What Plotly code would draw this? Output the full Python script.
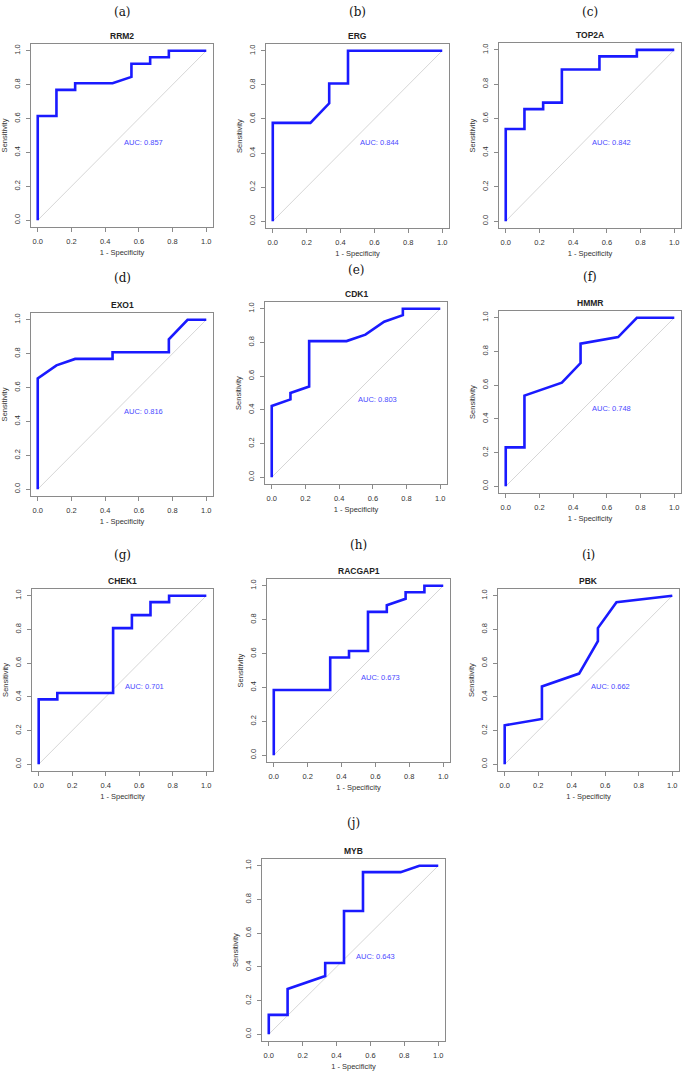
import plotly.graph_objects as go

W, H = 685, 1073

labels = ["(a)", "(b)", "(c)", "(d)", "(e)", "(f)", "(g)", "(h)", "(i)", "(j)"]
genes = ["RRM2", "ERG", "TOP2A", "EXO1", "CDK1", "HMMR", "CHEK1", "RACGAP1", "PBK", "MYB"]
aucs = ["0.857", "0.844", "0.842", "0.816", "0.803", "0.748", "0.701", "0.673", "0.662", "0.643"]

# 1 - specificity (x) and sensitivity (y) for each ROC curve
fpr_RRM2 = [0, 0, 0.111, 0.111, 0.222, 0.222, 0.444, 0.556, 0.556, 0.667, 0.667, 0.778, 0.778, 1]
tpr_RRM2 = [0, 0.615, 0.615, 0.769, 0.769, 0.808, 0.808, 0.846, 0.923, 0.923, 0.962, 0.962, 1, 1]

fpr_ERG = [0, 0, 0.222, 0.333, 0.333, 0.444, 0.444, 1]
tpr_ERG = [0, 0.577, 0.577, 0.692, 0.808, 0.808, 1, 1]

fpr_TOP2A = [0, 0, 0.111, 0.111, 0.222, 0.222, 0.333, 0.333, 0.556, 0.556, 0.778, 0.778, 1]
tpr_TOP2A = [0, 0.538, 0.538, 0.654, 0.654, 0.692, 0.692, 0.885, 0.885, 0.962, 0.962, 1, 1]

fpr_EXO1 = [0, 0, 0.111, 0.222, 0.444, 0.444, 0.778, 0.778, 0.889, 1]
tpr_EXO1 = [0, 0.654, 0.731, 0.769, 0.769, 0.808, 0.808, 0.885, 1, 1]

fpr_CDK1 = [0, 0, 0.111, 0.111, 0.222, 0.222, 0.444, 0.556, 0.667, 0.778, 0.778, 1]
tpr_CDK1 = [0, 0.423, 0.462, 0.5, 0.538, 0.808, 0.808, 0.846, 0.923, 0.962, 1, 1]

fpr_HMMR = [0, 0, 0.111, 0.111, 0.333, 0.444, 0.444, 0.667, 0.778, 1]
tpr_HMMR = [0, 0.231, 0.231, 0.538, 0.615, 0.731, 0.846, 0.885, 1, 1]

fpr_CHEK1 = [0, 0, 0.111, 0.111, 0.444, 0.444, 0.556, 0.556, 0.667, 0.667, 0.778, 0.778, 1]
tpr_CHEK1 = [0, 0.385, 0.385, 0.423, 0.423, 0.808, 0.808, 0.885, 0.885, 0.962, 0.962, 1, 1]

fpr_RACGAP1 = [0, 0, 0.333, 0.333, 0.444, 0.444, 0.556, 0.556, 0.667, 0.667, 0.778, 0.778, 0.889, 0.889, 1]
tpr_RACGAP1 = [0, 0.385, 0.385, 0.577, 0.577, 0.615, 0.615, 0.846, 0.846, 0.885, 0.923, 0.962, 0.962, 1, 1]

fpr_PBK = [0, 0, 0.222, 0.222, 0.444, 0.556, 0.556, 0.667, 1]
tpr_PBK = [0, 0.231, 0.269, 0.462, 0.538, 0.731, 0.808, 0.962, 1]

fpr_MYB = [0, 0, 0.111, 0.111, 0.333, 0.333, 0.444, 0.444, 0.556, 0.556, 0.778, 0.889, 1]
tpr_MYB = [0, 0.115, 0.115, 0.269, 0.346, 0.423, 0.423, 0.731, 0.731, 0.962, 0.962, 1, 1]

fprs = [fpr_RRM2, fpr_ERG, fpr_TOP2A, fpr_EXO1, fpr_CDK1, fpr_HMMR, fpr_CHEK1, fpr_RACGAP1, fpr_PBK, fpr_MYB]
tprs = [tpr_RRM2, tpr_ERG, tpr_TOP2A, tpr_EXO1, tpr_CDK1, tpr_HMMR, tpr_CHEK1, tpr_RACGAP1, tpr_PBK, tpr_MYB]

tick_vals = [0, 0.2, 0.4, 0.6, 0.8, 1.0]
tick_text = ["0.0", "0.2", "0.4", "0.6", "0.8", "1.0"]

# plot boxes in pixels: (left, right, top, bottom), and label y
boxes = [
    (31, 213, 44, 227, 12),
    (266, 449, 44, 228, 12),
    (499, 681, 43, 228, 12),
    (31, 213, 313, 496, 278),
    (265, 447, 302, 484, 270),
    (499, 681, 311, 493, 277),
    (32, 213, 589, 771, 555),
    (267, 450, 579, 762, 545),
    (498, 679, 589, 771, 555),
    (262, 445, 859, 1041, 823),
]

fig = go.Figure()
annotations = []
layout = {}
sans = "Liberation Sans, Arial, sans-serif"

for i in range(10):
    l, r, t, b, ly = boxes[i]
    n = "" if i == 0 else str(i + 1)
    xa, ya = "x" + n, "y" + n
    dom_x = [l / W, r / W]
    dom_y = [1 - b / H, 1 - t / H]
    common = dict(range=[-0.04, 1.04], tickvals=tick_vals, ticktext=tick_text,
                  showgrid=False, zeroline=False, showline=True, mirror=True,
                  linecolor="#8a8a8a", linewidth=1, ticks="outside", ticklen=4,
                  tickcolor="#8a8a8a", ticklabelstandoff=3,
                  tickfont=dict(family=sans, size=7.5, color="#333"))
    layout["xaxis" + n] = dict(domain=dom_x, anchor=ya, **common,
                              title=dict(text="1 - Specificity", standoff=4,
                                         font=dict(family=sans, size=7.5, color="#333")))
    layout["yaxis" + n] = dict(domain=dom_y, anchor=xa, tickangle=-90, **common,
                              title=dict(text="Sensitivity", standoff=4,
                                         font=dict(family=sans, size=7.5, color="#333")))
    # diagonal
    fig.add_trace(go.Scatter(x=[0, 1], y=[0, 1], mode="lines", xaxis=xa, yaxis=ya,
                             line=dict(color="#cccccc", width=0.8), showlegend=False,
                             hoverinfo="skip"))
    fig.add_trace(go.Scatter(x=fprs[i], y=tprs[i], mode="lines", xaxis=xa, yaxis=ya,
                             line=dict(color="#1a1aff", width=2.6), showlegend=False))
    annotations.append(dict(x=0.5, y=0.5, xref=xa, yref=ya, text="AUC: " + aucs[i],
                            showarrow=False, xanchor="left", yanchor="top",
                            font=dict(family=sans, size=7.5, color="#4a4aff")))
    annotations.append(dict(x=(l + r) / 2 / W, y=1 - (t - 8) / H, xref="paper", yref="paper",
                            text="<b>" + genes[i] + "</b>", showarrow=False,
                            xanchor="center", yanchor="middle",
                            font=dict(family=sans, size=8.5, color="#222")))
    annotations.append(dict(x=(l + r) / 2 / W, y=1 - ly / H, xref="paper", yref="paper",
                            text=labels[i], showarrow=False, xanchor="center", yanchor="middle",
                            font=dict(family="DejaVu Serif, Liberation Serif, serif", size=12, color="#111")))

fig.update_layout(width=W, height=H, margin=dict(l=0, r=0, t=0, b=0),
                  paper_bgcolor="white", plot_bgcolor="white",
                  annotations=annotations, **layout)

fig.write_html("out.html", config={"displayModeBar": False},
               post_script="document.body.style.margin='0px';document.body.style.overflow='hidden';")
